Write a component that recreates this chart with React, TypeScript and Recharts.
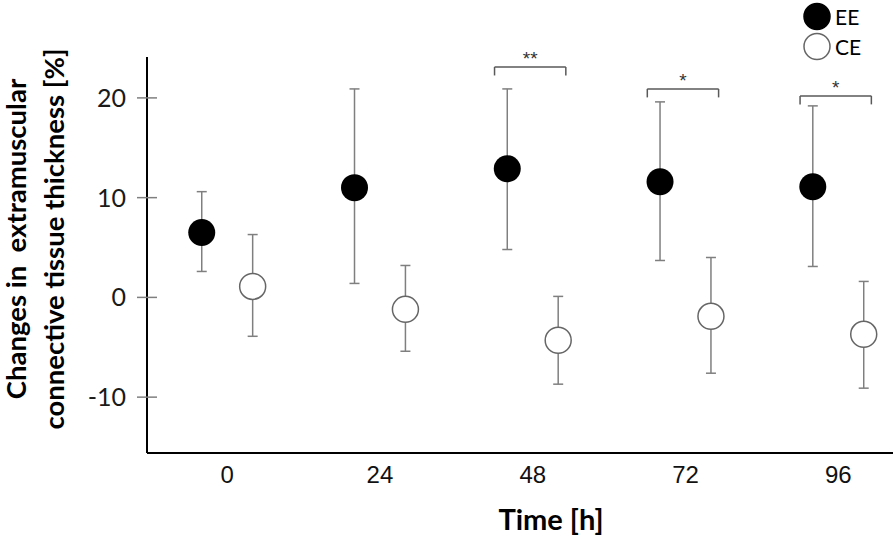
import React from 'react';
import { ComposedChart, Scatter, XAxis, YAxis, ErrorBar, ReferenceLine } from 'recharts';

// Time points (h) and group means / error bar ends (%)
const times = [0, 24, 48, 72, 96];
const seriesNames = ['EE', 'CE'];
const eeMean = [6.5, 11.0, 12.9, 11.6, 11.1];
const eeHigh = [10.6, 20.9, 20.9, 19.6, 19.2];
const eeLow = [2.6, 1.4, 4.8, 3.7, 3.1];
const ceMean = [1.1, -1.2, -4.3, -1.9, -3.7];
const ceHigh = [6.3, 3.2, 0.1, 4.0, 1.6];
const ceLow = [-3.9, -5.4, -8.7, -7.6, -9.1];
const yTicks = [-10, 0, 10, 20];

// significance brackets between EE and CE
const sigTimes = [48, 72, 96];
const sigMarks = ['**', '*', '*'];
const sigLevel = [23.1, 20.9, 20.2];

const W = 896;
const H = 537;
const AXIS_X = 147; // y axis line position
const X_AXIS_H = 84; // room under the plot for ticks and title
const PAIR_SHIFT = 4; // hours either side of the tick
const FONT = 'Lato, "Open Sans", sans-serif';
const GREY = '#7f7f7f';

const toRows = (mean: number[], low: number[], high: number[], shift: number) =>
  times.map((t, i) => ({
    x: t + shift,
    y: mean[i],
    err: [mean[i] - low[i], high[i] - mean[i]],
  }));

const eeData = toRows(eeMean, eeLow, eeHigh, -PAIR_SHIFT);
const ceData = toRows(ceMean, ceLow, ceHigh, PAIR_SHIFT);

function YTick(props: any) {
  const { y, payload } = props;
  return (
    <g>
      <line x1={AXIS_X - 10} x2={AXIS_X + 10} y1={y} y2={y} stroke={GREY} strokeWidth={1.5} />
      <text x={AXIS_X - 21} y={y} dy="0.36em" textAnchor="end" fontFamily={FONT} fontSize={25} fill="#1a1a1a">
        {payload.value}
      </text>
    </g>
  );
}

function YTitle() {
  const cy = 239;
  return (
    <g fontFamily={FONT} fontWeight={700} fontSize={27.5} fill="#000" textAnchor="middle">
      <text x={26} y={cy} transform={`rotate(-90 26 ${cy})`} style={{ whiteSpace: 'pre' }}>
        Changes in  extramuscular
      </text>
      <text x={64} y={cy} transform={`rotate(-90 64 ${cy})`}>
        connective tissue thickness [%]
      </text>
    </g>
  );
}

function XTitle() {
  return (
    <text x={551} y={530} textAnchor="middle" fontFamily={FONT} fontWeight={700} fontSize={29} fill="#000">
      Time [h]
    </text>
  );
}

function SigLabel(props: any) {
  const { viewBox, value } = props;
  const cx = viewBox.x + viewBox.width / 2;
  return (
    <text x={cx} y={viewBox.y - 2} textAnchor="middle" fontFamily='"Liberation Sans", Arial, sans-serif' fontSize={19} fill="#333">
      {value}
    </text>
  );
}

function LegendBox() {
  return (
    <div style={{ position: 'absolute', left: 803, top: 2, fontFamily: FONT, fontSize: 21, color: '#000' }}>
      {seriesNames.map((name, i) => (
        <div key={name} style={{ display: 'flex', alignItems: 'center', height: 29.5 }}>
          <svg width={30} height={29} style={{ display: 'block' }}>
            <circle
              cx={14}
              cy={14.5}
              r={13}
              fill={i === 0 ? '#000' : '#fff'}
              stroke={i === 0 ? '#000' : '#666'}
              strokeWidth={1.5}
            />
          </svg>
          <span style={{ marginLeft: 2 }}>{name}</span>
        </div>
      ))}
    </div>
  );
}

export default function App() {
  return (
    <div style={{ position: 'absolute', left: 0, top: 0, width: W, height: H, background: '#fff' }}>
      <ComposedChart width={W} height={H} margin={{ top: 57, right: 3, bottom: 0, left: 0 }}>
        <XAxis
          dataKey="x"
          type="number"
          domain={[-12.6, 104.6]}
          ticks={times}
          allowDataOverflow
          height={X_AXIS_H}
          axisLine={{ stroke: '#000', strokeWidth: 2 }}
          tickLine={false}
          tickMargin={7}
          tick={{ fontFamily: '"Liberation Sans", Arial, sans-serif', fontSize: 24, fill: '#111' }}
          label={{ content: () => <XTitle /> }}
        />
        <YAxis
          dataKey="y"
          type="number"
          domain={[-15.6, 24.1]}
          ticks={yTicks}
          allowDataOverflow
          width={AXIS_X}
          axisLine={{ stroke: '#000', strokeWidth: 2 }}
          tickLine={false}
          tick={<YTick />}
          label={{ content: () => <YTitle /> }}
        />
        {sigTimes.map((t, i) => {
          const l = t - 6.0;
          const r = t + 5.2;
          const top = sigLevel[i];
          const foot = top - 0.85;
          const line = { stroke: '#595959', strokeWidth: 1.5 };
          return [
            <ReferenceLine key={`l${i}`} segment={[{ x: l, y: foot }, { x: l, y: top }]} {...line} />,
            <ReferenceLine
              key={`m${i}`}
              segment={[{ x: l, y: top }, { x: r, y: top }]}
              {...line}
              label={<SigLabel value={sigMarks[i]} />}
            />,
            <ReferenceLine key={`r${i}`} segment={[{ x: r, y: top }, { x: r, y: foot }]} {...line} />,
          ];
        })}
        <Scatter
          name={seriesNames[0]}
          data={eeData}
          dataKey="y"
          isAnimationActive={false}
          shape={(p: any) => <circle cx={p.cx} cy={p.cy} r={13.5} fill="#000" />}
        >
          <ErrorBar dataKey="err" direction="y" width={5} stroke={GREY} strokeWidth={1.5} />
        </Scatter>
        <Scatter
          name={seriesNames[1]}
          data={ceData}
          dataKey="y"
          isAnimationActive={false}
          shape={(p: any) => <circle cx={p.cx} cy={p.cy} r={13} fill="#fff" stroke="#666" strokeWidth={1.5} />}
        >
          <ErrorBar dataKey="err" direction="y" width={5} stroke={GREY} strokeWidth={1.5} />
        </Scatter>
      </ComposedChart>
      <LegendBox />
    </div>
  );
}
